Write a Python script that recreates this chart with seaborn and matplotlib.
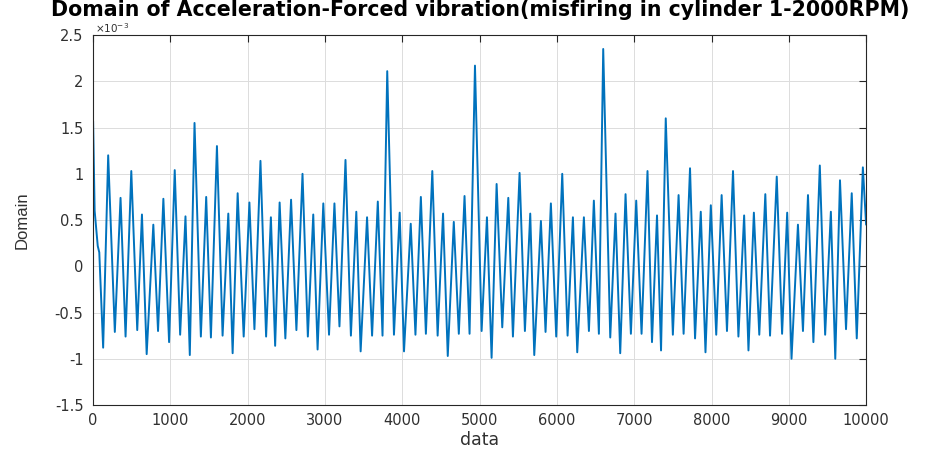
import numpy as np
import pandas as pd
import matplotlib
matplotlib.use("Agg")
import matplotlib.pyplot as plt
import seaborn as sns

# Signal extrema (x = sample index, y in units of 1e-3)
sample_idx = [0, 20, 60, 80, 130, 195, 281, 355, 420, 494, 571, 632, 693, 779, 840, 909, 983,
              1056, 1126, 1195, 1251, 1312, 1394, 1463, 1524, 1602, 1675, 1749, 1805, 1870,
              1948, 2022, 2087, 2165, 2238, 2300, 2355, 2413, 2487, 2561, 2630, 2709, 2778,
              2848, 2904, 2978, 3052, 3122, 3187, 3265, 3335, 3405, 3461, 3544, 3609, 3683,
              3744, 3805, 3892, 3966, 4022, 4109, 4170, 4240, 4305, 4388, 4457, 4527, 4588,
              4666, 4731, 4805, 4870, 4940, 5026, 5095, 5155, 5220, 5293, 5371, 5431, 5517,
              5586, 5655, 5707, 5793, 5853, 5922, 5991, 6069, 6138, 6207, 6263, 6349, 6414,
              6478, 6543, 6599, 6690, 6758, 6819, 6888, 6957, 7026, 7095, 7172, 7230, 7295,
              7347, 7408, 7500, 7574, 7639, 7722, 7787, 7861, 7922, 7991, 8061, 8131, 8200,
              8278, 8348, 8422, 8478, 8548, 8618, 8696, 8757, 8844, 8913, 8979, 9035, 9118,
              9183, 9248, 9318, 9401, 9470, 9544, 9601, 9662, 9740, 9814, 9879, 9958, 10000]
domain_e3 = [1.57, 0.6, 0.22, 0.15, -0.88, 1.2, -0.71, 0.74, -0.76, 1.03, -0.69, 0.56, -0.95,
             0.45, -0.70, 0.73, -0.82, 1.04, -0.74, 0.54, -0.96, 1.55, -0.76, 0.75, -0.77,
             1.30, -0.75, 0.57, -0.94, 0.79, -0.76, 0.69, -0.68, 1.14, -0.76, 0.53, -0.86,
             0.69, -0.78, 0.72, -0.69, 1.0, -0.76, 0.56, -0.90, 0.68, -0.74, 0.68, -0.65,
             1.15, -0.75, 0.59, -0.92, 0.53, -0.75, 0.70, -0.75, 2.11, -0.74, 0.58, -0.92,
             0.46, -0.74, 0.75, -0.73, 1.03, -0.75, 0.57, -0.97, 0.48, -0.73, 0.76, -0.73,
             2.17, -0.70, 0.53, -0.99, 0.89, -0.66, 0.74, -0.76, 1.01, -0.70, 0.57, -0.96,
             0.49, -0.71, 0.68, -0.76, 1.0, -0.75, 0.53, -0.93, 0.53, -0.70, 0.71, -0.73,
             2.35, -0.77, 0.57, -0.94, 0.78, -0.73, 0.71, -0.73, 1.03, -0.82, 0.55, -0.91,
             1.60, -0.74, 0.77, -0.73, 1.06, -0.78, 0.59, -0.93, 0.66, -0.74, 0.77, -0.70,
             1.03, -0.76, 0.55, -0.91, 0.58, -0.74, 0.78, -0.75, 0.97, -0.73, 0.58, -1.00,
             0.45, -0.70, 0.77, -0.82, 1.09, -0.74, 0.59, -1.00, 0.93, -0.68, 0.79, -0.78,
             1.07, 0.45]

x_ticks = [0, 1000, 2000, 3000, 4000, 5000, 6000, 7000, 8000, 9000, 10000]
y_ticks = [-1.5, -1, -0.5, 0, 0.5, 1, 1.5, 2, 2.5]
y_tick_labels = ["-1.5", "-1", "-0.5", "0", "0.5", "1", "1.5", "2", "2.5"]

df = pd.DataFrame({"data": sample_idx, "Domain": domain_e3})

sns.set_style("white")
plt.rcParams["font.family"] = ["DejaVu Sans"]

fig = plt.figure(figsize=(9.5, 4.5), dpi=100)
ax = fig.add_axes([0.098, 0.1, 0.8137, 0.822])

sns.lineplot(data=df, x="data", y="Domain", ax=ax, color="#0072BD", linewidth=1.4,
             estimator=None, sort=False)

ax.set_xlim(0, 10000)
ax.set_ylim(-1.5, 2.5)
ax.set_xticks(x_ticks)
ax.set_xticklabels([str(t) for t in x_ticks])
ax.set_yticks(y_ticks)
ax.set_yticklabels(y_tick_labels)
ax.grid(True, color="#dcdcdc", linewidth=0.7)
ax.tick_params(direction="in", length=5, width=0.8, top=True, right=True,
               labelsize=10.5, labelcolor="#303030", color="#262626")
ax.tick_params(axis="y", pad=7)
ax.tick_params(axis="x", pad=6)
for s in ax.spines.values():
    s.set_color("#262626")
    s.set_linewidth(0.8)

ax.set_xlabel("data", fontsize=12.5, color="#303030", labelpad=2)
ax.set_ylabel("Domain", fontsize=12, color="#303030", labelpad=18,
              family=["Liberation Sans", "DejaVu Sans"])
fig.text(0.5055, 0.999, "Domain of Acceleration-Forced vibration(misfiring in cylinder 1-2000RPM)",
         fontsize=14.8, fontweight="bold", color="black", ha="center", va="top")
ax.text(0.003, 0.999, r"$\times10^{-3}$", transform=ax.transAxes, fontsize=7.5,
        color="#303030", ha="left", va="bottom", zorder=0)

fig.savefig("out.png", dpi=100)
